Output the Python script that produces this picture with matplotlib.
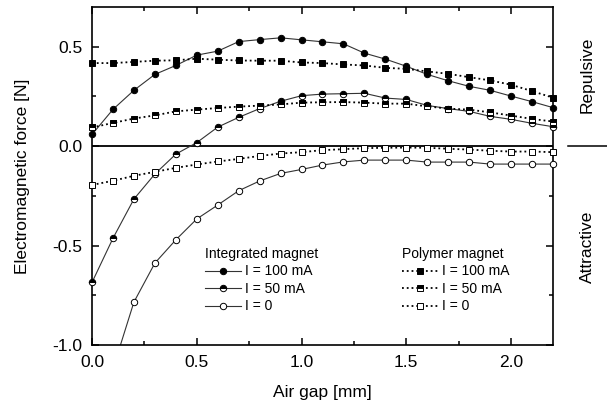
import numpy as np
import matplotlib.pyplot as plt
from matplotlib.lines import Line2D
from matplotlib.ticker import MultipleLocator

plt.rcParams['font.family'] = ['Liberation Sans', 'DejaVu Sans']

gap = [0.0, 0.1, 0.2, 0.3, 0.4, 0.5, 0.6, 0.7, 0.8, 0.9, 1.0, 1.1,
       1.2, 1.3, 1.4, 1.5, 1.6, 1.7, 1.8, 1.9, 2.0, 2.1, 2.2]

# integrated magnet
int_100 = [0.059, 0.185, 0.281, 0.361, 0.406, 0.458, 0.478, 0.526, 0.536, 0.545, 0.535, 0.525,
           0.515, 0.468, 0.438, 0.402, 0.361, 0.329, 0.301, 0.281, 0.252, 0.224, 0.194]
int_50 = [-0.685, -0.463, -0.266, -0.14, -0.04, 0.018, 0.096, 0.145, 0.189, 0.226, 0.254, 0.262,
          0.264, 0.266, 0.242, 0.235, 0.205, 0.189, 0.175, 0.150, 0.135, 0.115, 0.098]
int_0 = [-1.55, -1.12, -0.784, -0.588, -0.471, -0.366, -0.296, -0.224, -0.175, -0.137, -0.117, -0.095,
         -0.079, -0.070, -0.070, -0.070, -0.080, -0.080, -0.080, -0.090, -0.090, -0.090, -0.090]

# polymer magnet
pol_100 = [0.418, 0.418, 0.424, 0.430, 0.432, 0.440, 0.435, 0.431, 0.430, 0.430, 0.421, 0.418,
           0.411, 0.406, 0.394, 0.389, 0.376, 0.364, 0.347, 0.331, 0.309, 0.277, 0.244]
pol_50 = [0.094, 0.117, 0.139, 0.155, 0.175, 0.184, 0.192, 0.199, 0.204, 0.210, 0.219, 0.221,
          0.222, 0.219, 0.214, 0.214, 0.200, 0.189, 0.184, 0.170, 0.154, 0.137, 0.124]
pol_0 = [-0.195, -0.174, -0.149, -0.129, -0.109, -0.092, -0.077, -0.064, -0.049, -0.037, -0.030, -0.020,
         -0.015, -0.010, -0.008, -0.007, -0.008, -0.013, -0.017, -0.023, -0.027, -0.027, -0.030]

labels = ["I = 100 mA", "I = 50 mA", "I = 0"]

ymin, ymax = -1.0, 0.7

fig = plt.figure(figsize=(6.07, 4.03), dpi=100)
ax = fig.add_axes([0.1516, 0.1439, 0.7594, 0.8387])

ms = 4.6
styles = [dict(fillstyle='full', markerfacecolor='black'),
          dict(fillstyle='top', markerfacecolor='black', markerfacecoloralt='white'),
          dict(fillstyle='full', markerfacecolor='white')]

def visible(y):
    # markers drawn unclipped, so drop the ones outside the y range
    y = np.array(y, dtype=float)
    y[(y < ymin) | (y > ymax)] = np.nan
    return y

int_handles = []
for y, st in zip([int_100, int_50, int_0], styles):
    ax.plot(gap, y, '-', color='#333333', lw=0.8, zorder=2)
    ax.plot(gap, visible(y), 'o', ms=ms, markeredgecolor='black', mew=0.7, zorder=3,
            clip_on=False, **st)
    int_handles.append(Line2D([], [], ls='-', color='#333333', lw=0.8, marker='o', ms=ms,
                              markeredgecolor='black', mew=0.7, **st))

pol_handles = []
for y, st in zip([pol_100, pol_50, pol_0], styles):
    ax.plot(gap, y, ':', color='black', lw=1.3, zorder=2)
    ax.plot(gap, visible(y), 's', ms=ms, markeredgecolor='black', mew=0.7, zorder=3,
            clip_on=False, **st)
    pol_handles.append(Line2D([], [], ls=':', color='black', lw=1.3, marker='s', ms=ms,
                              markeredgecolor='black', mew=0.7, **st))

ax.axhline(0, color='black', lw=1.3, zorder=1)

ax.set_xlim(0, 2.2)
ax.set_ylim(ymin, ymax)
ax.xaxis.set_major_locator(MultipleLocator(0.5))
ax.xaxis.set_minor_locator(MultipleLocator(0.25))
ax.yaxis.set_major_locator(MultipleLocator(0.5))
ax.yaxis.set_minor_locator(MultipleLocator(0.25))
ax.tick_params(which='both', direction='in', top=True, right=True, width=1.1, labelsize=12.5, pad=7)
ax.tick_params(which='major', length=5)
ax.tick_params(which='minor', length=3)
ax.xaxis.set_major_formatter(plt.FormatStrFormatter('%.1f'))
ax.yaxis.set_major_formatter(plt.FormatStrFormatter('%.1f'))
for s in ax.spines.values():
    s.set_linewidth(1.2)

ax.set_xlabel("Air gap [mm]", fontsize=12.5, labelpad=11)
ax.set_ylabel("Electromagnetic force [N]", fontsize=12.5, labelpad=16)

leg_kw = dict(loc='upper left', frameon=False, fontsize=10, title_fontsize=10, alignment='left',
              handlelength=2.6, handletextpad=0.3, labelspacing=0.25, borderpad=0, borderaxespad=0)
fig.legend(int_handles, labels, title="Integrated magnet",
           bbox_to_anchor=(205 / 607, 1 - 247 / 403), **leg_kw)
fig.legend(pol_handles, labels, title="Polymer magnet",
           bbox_to_anchor=(402 / 607, 1 - 247 / 403), **leg_kw)

fig.text(587 / 607, 1 - 75 / 403, "Repulsive", rotation=90, ha='center', va='center', fontsize=12.5)
fig.text(587 / 607, 1 - 247 / 403, "Attractive", rotation=90, ha='center', va='center', fontsize=12.5)
fig.add_artist(Line2D([568 / 607, 1.0], [1 - 146 / 403, 1 - 146 / 403], color='black', lw=1.1))

fig.savefig("out.png", dpi=100)
